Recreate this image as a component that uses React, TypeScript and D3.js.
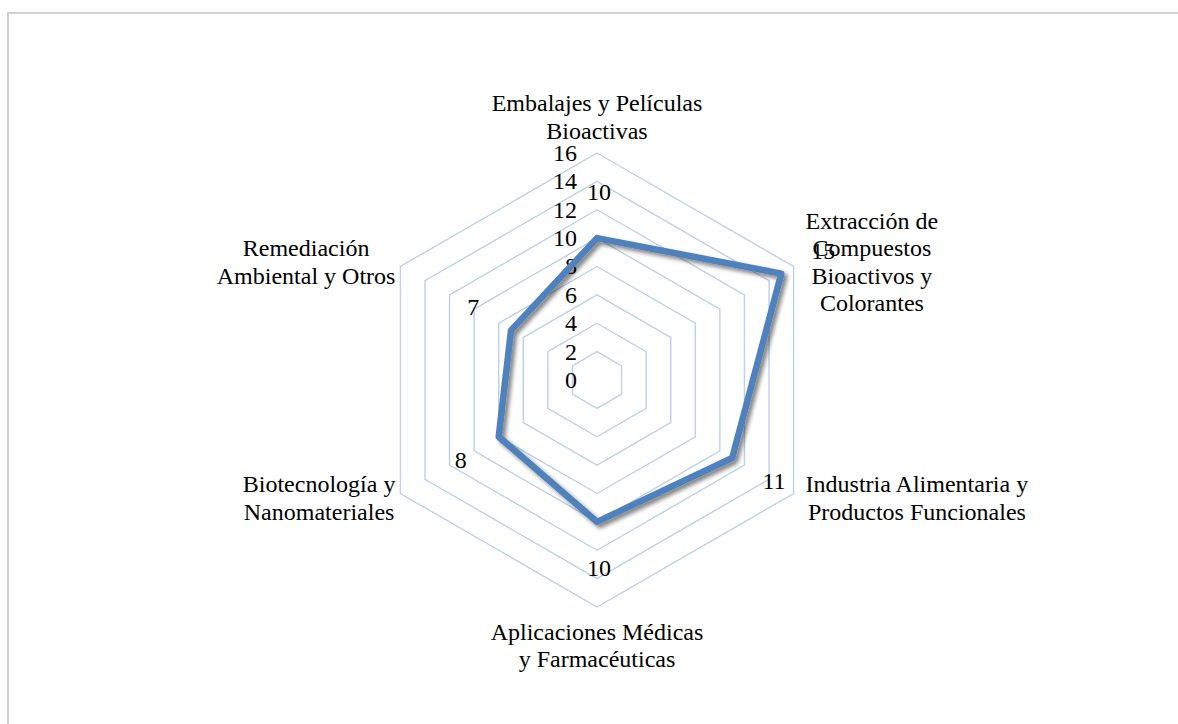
import React, { useEffect, useRef } from 'react'
import * as d3 from 'd3'

// categories, clockwise from the top
const CATEGORIES = [
  ['Embalajes y Películas', 'Bioactivas'],
  ['Extracción de', 'Compuestos', 'Bioactivos y', 'Colorantes'],
  ['Industria Alimentaria y', 'Productos Funcionales'],
  ['Aplicaciones Médicas', 'y Farmacéuticas'],
  ['Biotecnología y', 'Nanomateriales'],
  ['Remediación', 'Ambiental y Otros'],
]
const VALUES = [10, 15, 11, 10, 8, 7]
const TICKS = [0, 2, 4, 6, 8, 10, 12, 14, 16]

const W = 1178
const H = 724
const FONT = '"Liberation Serif", "Times New Roman", serif'

function RadarChart() {
  const svgRef = useRef<SVGSVGElement>(null)

  useEffect(() => {
    if (!svgRef.current) return
    const svg = d3.select(svgRef.current)
    svg.selectAll('*').remove()

    const cx = 597
    const cy = 380
    const n = CATEGORIES.length

    const r = d3.scaleLinear().domain([0, 16]).range([0, 227])
    const angle = d3
      .scalePoint<number>()
      .domain(d3.range(n + 1))
      .range([0, 2 * Math.PI])
    const pos = (i: number, v: number): [number, number] => [
      cx + r(v) * Math.sin(angle(i)!),
      cy - r(v) * Math.cos(angle(i)!),
    ]

    const defs = svg.append('defs')
    const f = defs
      .append('filter')
      .attr('id', 'shadow')
      .attr('x', '-20%')
      .attr('y', '-20%')
      .attr('width', '140%')
      .attr('height', '140%')
    f.append('feGaussianBlur').attr('in', 'SourceAlpha').attr('stdDeviation', 2).attr('result', 'b')
    f.append('feOffset').attr('in', 'b').attr('dx', 2.5).attr('dy', 3).attr('result', 'o')
    f.append('feComponentTransfer')
      .attr('in', 'o')
      .attr('result', 'c')
      .append('feFuncA')
      .attr('type', 'linear')
      .attr('slope', 0.5)
    const m = f.append('feMerge')
    m.append('feMergeNode').attr('in', 'c')
    m.append('feMergeNode').attr('in', 'SourceGraphic')

    // frame (extends past the window on the right and bottom)
    svg
      .append('rect')
      .attr('x', 8)
      .attr('y', 13)
      .attr('width', 1400)
      .attr('height', 900)
      .attr('fill', 'none')
      .attr('stroke', '#d0d0d0')
      .attr('stroke-width', 2)

    const g = svg.append('g')

    const ringLine = d3
      .lineRadial<number>()
      .angle((_, i) => angle(i)!)
      .radius((d) => r(d))
      .curve(d3.curveLinearClosed)

    // grid rings
    g.selectAll('path.ring')
      .data(TICKS.filter((t) => t > 0))
      .enter()
      .append('path')
      .attr('class', 'ring')
      .attr('transform', `translate(${cx},${cy})`)
      .attr('d', (t) => ringLine(d3.range(n).map(() => t)))
      .attr('fill', 'none')
      .attr('stroke', '#bdd1ea')
      .attr('stroke-width', 1.4)

    // axis tick labels
    g.selectAll('text.tick')
      .data(TICKS)
      .enter()
      .append('text')
      .attr('class', 'tick')
      .attr('x', cx - 20)
      .attr('y', (t) => cy - r(t))
      .attr('dy', '0.33em')
      .attr('text-anchor', 'end')
      .attr('font-family', FONT)
      .attr('font-size', 24)
      .attr('fill', '#000')
      .text((t) => t)

    // data series
    g.append('path')
      .attr('transform', `translate(${cx},${cy})`)
      .attr('d', ringLine(VALUES))
      .attr('fill', 'none')
      .attr('stroke', '#4f81bd')
      .attr('stroke-width', 6.5)
      .attr('stroke-linejoin', 'round')
      .attr('filter', 'url(#shadow)')

    // value labels
    g.selectAll('text.val')
      .data(VALUES)
      .enter()
      .append('text')
      .attr('class', 'val')
      .attr('x', (v, i) => pos(i, v)[0] + 46 * Math.sin(angle(i)!) + 2)
      .attr('y', (v, i) => pos(i, v)[1] - 46 * Math.cos(angle(i)!))
      .attr('dy', '0.33em')
      .attr('text-anchor', 'middle')
      .attr('font-family', FONT)
      .attr('font-size', 24)
      .attr('fill', '#000')
      .text((v) => v)

    // category labels
    const lh = 27.5
    CATEGORIES.forEach((lines, i) => {
      const [vx, vy] = pos(i, 16)
      const s = Math.sin(angle(i)!)
      const c = Math.cos(angle(i)!)
      const t = g
        .append('text')
        .attr('font-family', FONT)
        .attr('font-size', 24)
        .attr('fill', '#000')
        .attr('text-anchor', 'middle')
      lines.forEach((ln) => t.append('tspan').text(ln))
      const widths = t.selectAll<SVGTSpanElement, unknown>('tspan').nodes().map((nd) => nd.getComputedTextLength())
      const bw = Math.max(...widths)
      let x = vx
      let firstY = 0
      if (Math.abs(s) < 0.1) {
        firstY = c > 0 ? vy - 22 - (lines.length - 1) * lh : vy + 25
      } else {
        x = s > 0 ? vx + 12 + bw / 2 : vx - 5 - bw / 2
        const mid = vy - c * 9
        firstY = mid - ((lines.length - 1) * lh) / 2
      }
      t.selectAll('tspan')
        .attr('x', x)
        .attr('y', (_, k) => firstY + k * lh)
        .attr('dy', '0.33em')
    })
  }, [])

  return <svg ref={svgRef} width={W} height={H} style={{ display: 'block', background: '#fff' }} />
}

export default function App() {
  return (
    <div style={{ position: 'absolute', left: 0, top: 0, width: W, height: H, overflow: 'hidden' }}>
      <RadarChart />
    </div>
  )
}
